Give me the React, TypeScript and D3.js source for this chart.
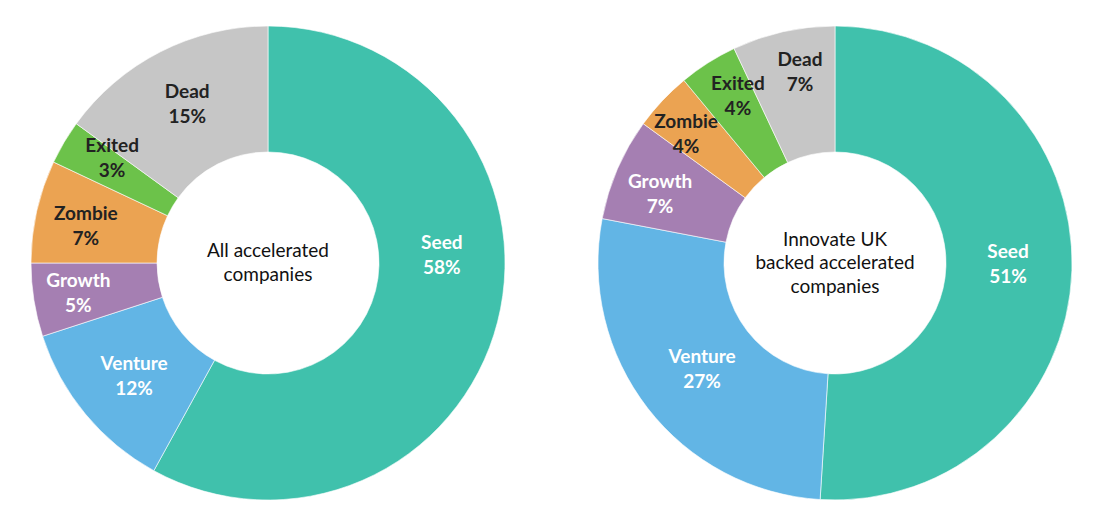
import { useEffect, useRef } from "react";
import * as d3 from "d3";

const categories = ["Seed", "Venture", "Growth", "Zombie", "Exited", "Dead"];
const allValues = [58, 12, 5, 7, 3, 15];
const innovateValues = [51, 27, 7, 4, 4, 7];
const allTitle = ["All accelerated", "companies"];
const innovateTitle = ["Innovate UK", "backed accelerated", "companies"];

const colors = ["#40c1ac", "#62b5e5", "#a57fb2", "#eba352", "#6cc24a", "#c6c6c6"];
const lightText = ["Seed", "Venture", "Growth"];

// label placement tweaks (degrees off the slice middle, distance from centre)
const allLabelShift = [-17, -0.5, 0, -1, 3.4, 0];
const allLabelRadius = [174, 175, 192, 186, 188, 178];
const innovateLabelShift = [-1.5, -0.8, -1.9, -2.3, 2.2, 2.2];
const innovateLabelRadius = [173, 170, 188, 197, 193, 194];

function drawDonut(
  g: d3.Selection<SVGGElement, unknown, null, undefined>,
  values: number[],
  title: string[],
  shift: number[],
  radius: number[]
) {
  const outer = 237;
  const inner = 111;
  const pie = d3.pie<number>().sort(null).value((d) => d);
  const arcs = pie(values);
  const arc = d3.arc<d3.PieArcDatum<number>>().innerRadius(inner).outerRadius(outer);

  g.selectAll("path")
    .data(arcs)
    .enter()
    .append("path")
    .attr("d", arc)
    .attr("fill", (_, i) => colors[i])
    .attr("stroke", "#fff")
    .attr("stroke-width", 0.6);

  const labels = g
    .selectAll("g.label")
    .data(arcs)
    .enter()
    .append("g")
    .attr("class", "label")
    .attr("transform", (d, i) => {
      const a = (d.startAngle + d.endAngle) / 2 + (shift[i] * Math.PI) / 180;
      const r = radius[i];
      return `translate(${r * Math.sin(a)},${-r * Math.cos(a)})`;
    });

  const fill = (_: unknown, i: number) => (lightText.includes(categories[i]) ? "#fff" : "#222");

  labels
    .append("text")
    .attr("text-anchor", "middle")
    .attr("y", -6)
    .attr("fill", fill)
    .style("font-size", "19px")
    .style("font-weight", 700)
    .text((_, i) => categories[i]);

  labels
    .append("text")
    .attr("text-anchor", "middle")
    .attr("y", 19)
    .attr("fill", fill)
    .style("font-size", "19px")
    .style("font-weight", 700)
    .text((d) => `${d.data}%`);

  const lh = 23.5;
  g.selectAll("text.title")
    .data(title)
    .enter()
    .append("text")
    .attr("class", "title")
    .attr("text-anchor", "middle")
    .attr("y", (_, i) => (i - (title.length - 1) / 2) * lh + 6)
    .attr("fill", "#111")
    .style("font-size", "19px")
    .text((d) => d);
}

export default function App() {
  const ref = useRef<SVGSVGElement>(null);

  useEffect(() => {
    if (!ref.current) return;
    const svg = d3.select(ref.current);
    svg.selectAll("*").remove();
    svg.attr("font-family", "Lato, 'Open Sans', sans-serif");

    const left = svg.append("g").attr("transform", "translate(268,263)");
    drawDonut(left, allValues, allTitle, allLabelShift, allLabelRadius);

    const right = svg.append("g").attr("transform", "translate(835,263)");
    drawDonut(right, innovateValues, innovateTitle, innovateLabelShift, innovateLabelRadius);
  }, []);

  return (
    <svg
      ref={ref}
      width={1108}
      height={528}
      style={{ position: "absolute", left: 0, top: 0, background: "#fff" }}
    />
  );
}
